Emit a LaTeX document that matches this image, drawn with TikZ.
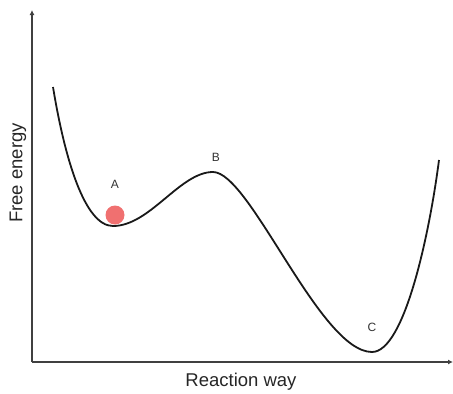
\documentclass[tikz,border=0pt]{standalone}
\usepackage{fontspec}
\setmainfont{Liberation Sans}
\usetikzlibrary{arrows.meta}
\begin{document}
\begin{tikzpicture}[x=1pt,y=-1pt,
  axis/.style={draw=black!75,line width=1.3pt,-{Latex[length=5pt,width=5pt]}},
  curve/.style={draw=black!90,line width=1.8pt},
  lbl/.style={font=\fontsize{12}{13}\selectfont,text=black!80},
  axlbl/.style={font=\fontsize{18.5}{20}\selectfont,text=black!85}]
\useasboundingbox (0,0) rectangle (453,394);
\coordinate (O) at (32,362);
\coordinate (Ytop) at (32,10);
\coordinate (Xend) at (453,362);
\draw[axis] (O) -- (Ytop);
\draw[axis] (O) -- (Xend);
\coordinate (S) at (53,87);
\coordinate (A) at (113,226);
\coordinate (B) at (213,172);
\coordinate (C) at (372,352);
\coordinate (E) at (439,160);
\draw[curve] (S) .. controls (65,160) and (85,226) .. (A)
  .. controls (150,226) and (180,172) .. (B)
  .. controls (250,172) and (320,352) .. (C)
  .. controls (405,352) and (430,230) .. (E);
\node[circle,fill={rgb,255:red,240;green,112;blue,112},minimum size=19pt,inner sep=0pt] (ball) at (115,215) {};
\node[lbl] (la) at (115,184) {A};
\node[lbl] (lb) at (216,157) {B};
\node[lbl] (lc) at (372,327) {C};
\node[axlbl,rotate=90] (yl) at (18,173) {Free energy};
\node[axlbl] (xl) at (241,382) {Reaction way};
\end{tikzpicture}
\end{document}
